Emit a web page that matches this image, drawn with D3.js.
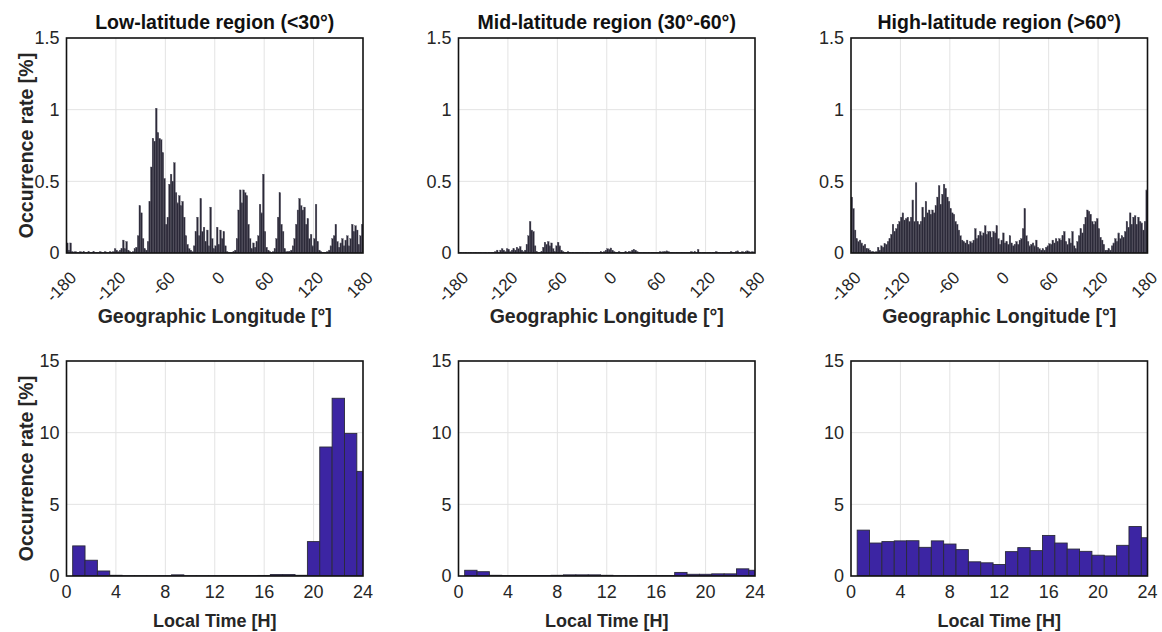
<!DOCTYPE html>
<html><head><meta charset="utf-8">
<script src="https://cdn.jsdelivr.net/npm/d3@7"></script>
<style>
body{margin:0;background:#fff}
svg{display:block}
text{font-family:"Liberation Sans",Arial,Helvetica,sans-serif}
</style>
</head><body>
<svg id="c" width="1162" height="632"></svg>
<script>
// ---------------- DATA ----------------
const panelTitles = ["Low-latitude region (<30°)", "Mid-latitude region (30°-60°)", "High-latitude region (>60°)"];
const lonTicks = [-180, -120, -60, 0, 60, 120, 180];
const lonTickLabels = ["-180", "-120", "-60", "0", "60", "120", "180"];
const lonYTicks = [0, 0.5, 1, 1.5];
const lonBinWidth = 2; // degrees per bin, bins start at -180

// occurrence rate [%] per 2° longitude bin (-180 .. 178)
const lowLon = [
  0.07,0.02,0.07,0.01,0.005,0.01,0.005,0.005,0.01,0.005,
  0.01,0.005,0.005,0.01,0.005,0.005,0.01,0.005,0.005,0.005,
  0.01,0.005,0.005,0.01,0.005,0.005,0.01,0.005,0.01,0.03,
  0.02,0.01,0.02,0.03,0.09,0.03,0.08,0.02,0.01,0.005,
  0.01,0.03,0.04,0.12,0.33,0.28,0.1,0.03,0.02,0.08,
  0.36,0.6,0.8,0.78,1.01,0.84,0.8,0.79,0.7,0.52,
  0.2,0.25,0.48,0.55,0.5,0.63,0.42,0.35,0.4,0.33,
  0.36,0.25,0.12,0.06,0.03,0.02,0.01,0.05,0.15,0.25,
  0.12,0.38,0.15,0.18,0.08,0.16,0.05,0.32,0.1,0.03,
  0.05,0.18,0.06,0.16,0.1,0.15,0.05,0.01,0.005,0.005,
  0.005,0.01,0.02,0.1,0.3,0.44,0.35,0.44,0.42,0.4,
  0.2,0.1,0.03,0.07,0.04,0.08,0.12,0.34,0.28,0.55,
  0.15,0.04,0.02,0.01,0.005,0.01,0.03,0.1,0.25,0.42,
  0.2,0.15,0.03,0.01,0.01,0.01,0.02,0.05,0.1,0.2,
  0.3,0.38,0.33,0.3,0.32,0.2,0.24,0.1,0.13,0.05,
  0.1,0.34,0.08,0.02,0.01,0.005,0.005,0.005,0.01,0.02,
  0.05,0.1,0.12,0.2,0.08,0.04,0.07,0.1,0.05,0.09,
  0.12,0.05,0.1,0.2,0.15,0.19,0.16,0.06,0.12,0.2
];
const midLon = [
  0.002,0.003,0.002,0.002,0.003,0.002,0.002,0.003,0.002,0.002,
  0.002,0.003,0.002,0.002,0.003,0.002,0.003,0.002,0.005,0.003,
  0.005,0.003,0.01,0.02,0.005,0.02,0.03,0.02,0.01,0.03,
  0.025,0.01,0.02,0.03,0.02,0.04,0.03,0.045,0.02,0.01,
  0.02,0.06,0.12,0.22,0.16,0.15,0.05,0.01,0.005,0.005,
  0.01,0.04,0.075,0.06,0.08,0.05,0.07,0.03,0.01,0.05,
  0.075,0.05,0.02,0.01,0.005,0.005,0.01,0.005,0.003,0.005,
  0.003,0.005,0.003,0.005,0.003,0.005,0.003,0.005,0.005,0.003,
  0.005,0.003,0.005,0.005,0.003,0.005,0.01,0.005,0.01,0.02,
  0.03,0.025,0.035,0.02,0.01,0.005,0.005,0.01,0.005,0.005,
  0.005,0.01,0.005,0.01,0.01,0.02,0.025,0.02,0.01,0.005,
  0.005,0.003,0.005,0.005,0.003,0.005,0.003,0.005,0.003,0.005,
  0.003,0.005,0.01,0.005,0.01,0.01,0.015,0.01,0.005,0.005,
  0.005,0.003,0.005,0.005,0.003,0.005,0.005,0.003,0.005,0.005,
  0.005,0.01,0.005,0.01,0.005,0.025,0.005,0.003,0.005,0.005,
  0.003,0.005,0.005,0.003,0.005,0.005,0.01,0.005,0.005,0.003,
  0.005,0.005,0.003,0.005,0.005,0.01,0.005,0.005,0.01,0.015,
  0.005,0.005,0.01,0.005,0.01,0.015,0.01,0.005,0.01,0.005
];
const highLon = [
  0.39,0.31,0.16,0.1,0.08,0.09,0.07,0.05,0.06,0.03,
  0.03,0.02,0.01,0.01,0.005,0.01,0.04,0.02,0.05,0.04,
  0.065,0.06,0.08,0.1,0.13,0.2,0.15,0.17,0.2,0.22,
  0.25,0.28,0.23,0.24,0.25,0.22,0.25,0.37,0.22,0.49,
  0.22,0.2,0.22,0.32,0.25,0.36,0.28,0.3,0.27,0.3,
  0.28,0.33,0.39,0.47,0.34,0.41,0.48,0.45,0.39,0.36,
  0.31,0.28,0.27,0.22,0.2,0.16,0.12,0.09,0.08,0.07,
  0.09,0.06,0.08,0.07,0.09,0.17,0.1,0.12,0.15,0.12,
  0.14,0.19,0.13,0.15,0.15,0.11,0.15,0.14,0.19,0.1,
  0.06,0.09,0.14,0.07,0.08,0.06,0.12,0.07,0.05,0.06,
  0.08,0.06,0.09,0.1,0.17,0.31,0.12,0.08,0.05,0.06,
  0.07,0.05,0.09,0.04,0.03,0.02,0.03,0.02,0.04,0.05,
  0.065,0.06,0.09,0.07,0.1,0.08,0.1,0.09,0.12,0.15,
  0.08,0.06,0.1,0.07,0.15,0.05,0.03,0.08,0.12,0.17,
  0.14,0.2,0.25,0.3,0.29,0.27,0.22,0.2,0.22,0.24,
  0.17,0.11,0.09,0.06,0.02,0.02,0.03,0.02,0.05,0.07,
  0.1,0.08,0.14,0.1,0.12,0.11,0.15,0.22,0.18,0.28,
  0.2,0.25,0.26,0.2,0.25,0.22,0.21,0.16,0.22,0.44
];

const ltTicks = [0, 4, 8, 12, 16, 20, 24];
const ltYTicks = [0, 5, 10, 15];
const ltHours = [1,2,3,4,5,6,7,8,9,10,11,12,13,14,15,16,17,18,19,20,21,22,23,24]; // bin centres
const lowLT  = [2.1,1.1,0.35,0.05,0.02,0.02,0.02,0.02,0.08,0.02,0.02,0.02,0.03,0.03,0.03,0.04,0.1,0.1,0.05,2.4,9.0,12.4,9.95,7.3];
const midLT  = [0.4,0.3,0.05,0.03,0.03,0.03,0.03,0.05,0.08,0.08,0.08,0.05,0.02,0.02,0.03,0.03,0.03,0.25,0.12,0.12,0.15,0.15,0.5,0.4];
const highLT = [3.2,2.3,2.4,2.45,2.46,2.0,2.45,2.23,1.84,0.99,0.92,0.8,1.7,1.98,1.77,2.83,2.3,1.88,1.72,1.45,1.4,2.14,3.45,2.67];

const lonSeries = [lowLon, midLon, highLon];
const ltSeries = [lowLT, midLT, highLT];

// ---------------- LAYOUT ----------------
const svg = d3.select("#c");
const panelX = [66.5, 458.5, 851];
const panelW = 296.5;
const rowY = [38, 361];
const panelH = 215;
const txtCol = "#262626";
const gridCol = "#e3e3e3";
const tickFont = 18;
const rotTickFont = 17;
const labelFont = 19.5;

function makePanel(idx, x0, y0, xDomain, yDomain, xTicks, yTicks, xLabels, rotateX) {
  const g = svg.append("g").attr("transform", `translate(${x0},${y0})`);
  const xs = d3.scaleLinear().domain(xDomain).range([0, panelW]);
  const ys = d3.scaleLinear().domain(yDomain).range([panelH, 0]);
  const clipId = "clip" + idx;
  g.append("clipPath").attr("id", clipId).append("rect").attr("width", panelW).attr("height", panelH);
  g.append("g").selectAll("line").data(xTicks.slice(1, -1)).join("line")
    .attr("x1", d => xs(d)).attr("x2", d => xs(d)).attr("y1", 0).attr("y2", panelH)
    .attr("stroke", gridCol).attr("stroke-width", 1);
  g.append("g").selectAll("line").data(yTicks.slice(1, -1)).join("line")
    .attr("y1", d => ys(d)).attr("y2", d => ys(d)).attr("x1", 0).attr("x2", panelW)
    .attr("stroke", gridCol).attr("stroke-width", 1);
  g.append("g").selectAll("text").data(yTicks).join("text")
    .attr("x", -7).attr("y", d => ys(d)).attr("dy", "0.36em")
    .attr("text-anchor", "end").attr("font-size", tickFont).attr("fill", txtCol)
    .text(d => String(d));
  const xl = g.append("g").selectAll("text").data(xTicks).join("text")
    .attr("fill", txtCol).text((d, i) => xLabels[i]);
  if (rotateX) {
    xl.attr("font-size", rotTickFont).attr("text-anchor", "end").attr("dominant-baseline", "central")
      .attr("transform", d => `translate(${xs(d) + 7},${panelH + 22}) rotate(-45)`);
  } else {
    xl.attr("font-size", tickFont).attr("text-anchor", "middle").attr("x", d => xs(d)).attr("y", panelH + 22);
  }
  return {g, xs, ys, clipId};
}

for (let c = 0; c < 3; c++) {
  // ---- top row: longitude ----
  const p = makePanel("t" + c, panelX[c], rowY[0], [-180, 180], [0, 1.5], lonTicks, lonYTicks, lonTickLabels, true);
  const data = lonSeries[c].map((v, i) => ({lon: -180 + i * lonBinWidth, v}));
  p.g.append("g").attr("clip-path", `url(#${p.clipId})`).selectAll("rect").data(data).join("rect")
    .attr("x", d => p.xs(d.lon)).attr("width", d => p.xs(d.lon + lonBinWidth) - p.xs(d.lon))
    .attr("y", d => p.ys(d.v)).attr("height", d => p.ys(0) - p.ys(d.v))
    .attr("fill", "#2b2938").attr("stroke", "#4d4b5a").attr("stroke-width", 0.35);
  p.g.append("rect").attr("width", panelW).attr("height", panelH)
    .attr("fill", "none").attr("stroke", "#111").attr("stroke-width", 1.6);
  p.g.append("text").attr("x", panelW / 2).attr("y", -9).attr("text-anchor", "middle")
    .attr("font-size", labelFont).attr("font-weight", "bold").attr("fill", "#111").text(panelTitles[c]);
  p.g.append("text").attr("x", panelW / 2).attr("y", panelH + 70).attr("text-anchor", "middle")
    .attr("font-size", labelFont).attr("font-weight", "bold").attr("fill", txtCol).text("Geographic Longitude [°]");

  // ---- bottom row: local time ----
  const q = makePanel("b" + c, panelX[c], rowY[1], [0, 24], [0, 15], ltTicks, ltYTicks, ltTicks.map(String), false);
  const d2 = ltSeries[c].map((v, i) => ({h: ltHours[i], v}));
  q.g.append("g").attr("clip-path", `url(#${q.clipId})`).selectAll("rect").data(d2).join("rect")
    .attr("x", d => q.xs(d.h - 0.5)).attr("width", d => q.xs(d.h + 0.5) - q.xs(d.h - 0.5))
    .attr("y", d => q.ys(d.v)).attr("height", d => q.ys(0) - q.ys(d.v))
    .attr("fill", "#3c25a3").attr("stroke", "#2a2a3a").attr("stroke-width", 0.9);
  q.g.append("rect").attr("width", panelW).attr("height", panelH)
    .attr("fill", "none").attr("stroke", "#111").attr("stroke-width", 1.6);
  q.g.append("text").attr("x", panelW / 2).attr("y", panelH + 51).attr("text-anchor", "middle")
    .attr("font-size", 18).attr("font-weight", "bold").attr("fill", txtCol).text("Local Time [H]");
}

[rowY[0], rowY[1]].forEach(y0 => {
  svg.append("text").attr("transform", `translate(33,${y0 + panelH / 2}) rotate(-90)`)
    .attr("text-anchor", "middle").attr("font-size", labelFont).attr("font-weight", "bold")
    .attr("fill", txtCol).text("Occurrence rate [%]");
});
</script>
</body></html>
